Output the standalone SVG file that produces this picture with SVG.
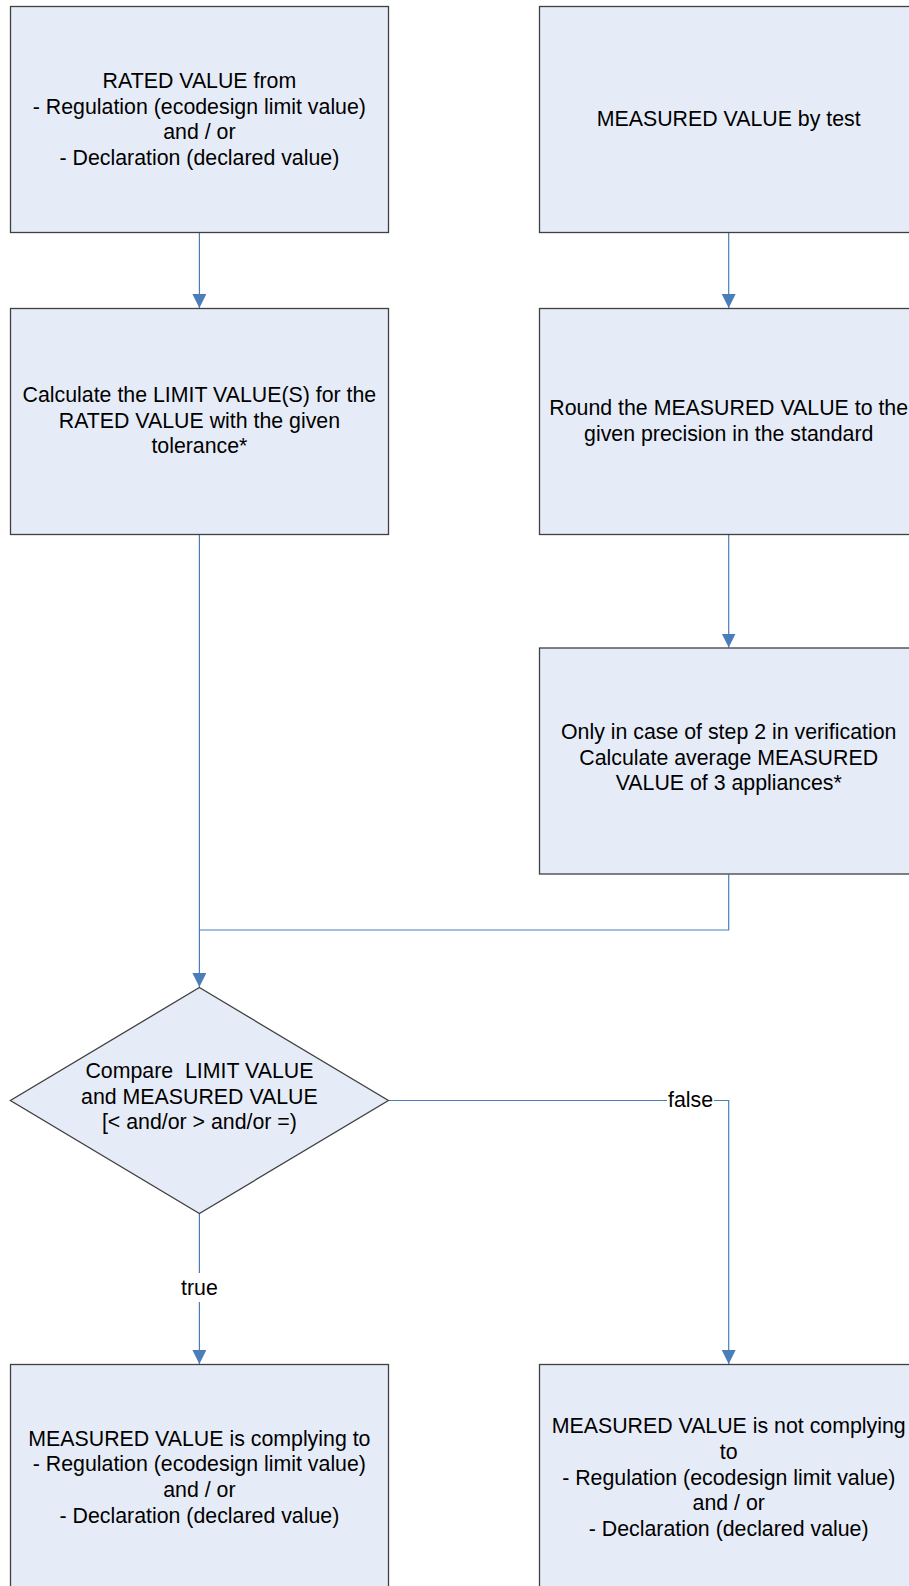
<svg xmlns="http://www.w3.org/2000/svg" width="909" height="1586" viewBox="0 0 909 1586">
<style>
.box{fill:#E6ECF7;stroke:#404040;stroke-width:1.3}
.t{font-family:"Liberation Sans",Arial,sans-serif;font-size:21.33px;fill:#000;text-anchor:middle}
.c{fill:none;stroke:#4A7EBB;stroke-width:1.2}
.lbl{fill:#fff}
</style>
<defs>
<marker id="arr" markerWidth="14" markerHeight="15" refX="14" refY="7" orient="auto" markerUnits="userSpaceOnUse">
<path d="M0,0 L14,7 L0,14 Z" fill="#4A7EBB"/>
</marker>
</defs>
<rect width="909" height="1586" fill="#fff"/>
<g id="connectors">
<path class="c" d="M199.4,233 V308" marker-end="url(#arr)"/>
<path class="c" d="M728.7,233 V308" marker-end="url(#arr)"/>
<path class="c" d="M728.7,534.5 V647.5" marker-end="url(#arr)"/>
<path class="c" d="M199.4,534.5 V987" marker-end="url(#arr)"/>
<path class="c" d="M728.7,874.5 V930 H199.4"/>
<path class="c" d="M199.4,1213.5 V1364" marker-end="url(#arr)"/>
<path class="c" d="M388.4,1100.5 H728.7 V1364" marker-end="url(#arr)"/>
<rect class="lbl" x="180" y="1273" width="39" height="29"/>
<text class="t" x="199.4" y="1295">true</text>
<rect class="lbl" x="667" y="1088" width="47" height="24"/>
<text class="t" x="690.5" y="1107">false</text>
</g>
<g id="rated">
<rect class="box" x="10.5" y="6.5" width="378" height="226"/>
<text class="t" x="199.4" y="88">RATED VALUE from</text>
<text class="t" x="199.4" y="113.6">- Regulation (ecodesign limit value)</text>
<text class="t" x="199.4" y="139.2">and / or</text>
<text class="t" x="199.4" y="164.8">- Declaration (declared value)</text>
</g>
<g id="measured">
<rect class="box" x="539.5" y="6.5" width="378" height="226"/>
<text class="t" x="728.7" y="126">MEASURED VALUE by test</text>
</g>
<g id="limit">
<rect class="box" x="10.5" y="308.5" width="378" height="226"/>
<text class="t" x="199.4" y="402">Calculate the LIMIT VALUE(S) for the</text>
<text class="t" x="199.4" y="427.6">RATED VALUE with the given</text>
<text class="t" x="199.4" y="453.2">tolerance*</text>
</g>
<g id="round">
<rect class="box" x="539.5" y="308.5" width="378" height="226"/>
<text class="t" x="728.7" y="415">Round the MEASURED VALUE to the</text>
<text class="t" x="728.7" y="440.6">given precision in the standard</text>
</g>
<g id="average">
<rect class="box" x="539.5" y="648" width="378" height="226"/>
<text class="t" x="728.7" y="739">Only in case of step 2 in verification</text>
<text class="t" x="728.7" y="764.6">Calculate average MEASURED</text>
<text class="t" x="728.7" y="790.2">VALUE of 3 appliances*</text>
</g>
<g id="compare">
<polygon class="box" points="199.4,987.5 388.4,1100.5 199.4,1213.5 10.4,1100.5"/>
<text class="t" x="199.4" y="1078" xml:space="preserve">Compare  LIMIT VALUE</text>
<text class="t" x="199.4" y="1103.6">and MEASURED VALUE</text>
<text class="t" x="199.4" y="1129.2">[&lt; and/or &gt; and/or =)</text>
</g>
<g id="complying">
<rect class="box" x="10.5" y="1364.5" width="378" height="226"/>
<text class="t" x="199.4" y="1445.7">MEASURED VALUE is complying to</text>
<text class="t" x="199.4" y="1471.3">- Regulation (ecodesign limit value)</text>
<text class="t" x="199.4" y="1496.9">and / or</text>
<text class="t" x="199.4" y="1522.5">- Declaration (declared value)</text>
</g>
<g id="notcomplying">
<rect class="box" x="539.5" y="1364.5" width="378" height="226"/>
<text class="t" x="728.7" y="1433.3">MEASURED VALUE is not complying</text>
<text class="t" x="728.7" y="1458.9">to</text>
<text class="t" x="728.7" y="1484.5">- Regulation (ecodesign limit value)</text>
<text class="t" x="728.7" y="1510.1">and / or</text>
<text class="t" x="728.7" y="1535.7">- Declaration (declared value)</text>
</g>
</svg>
